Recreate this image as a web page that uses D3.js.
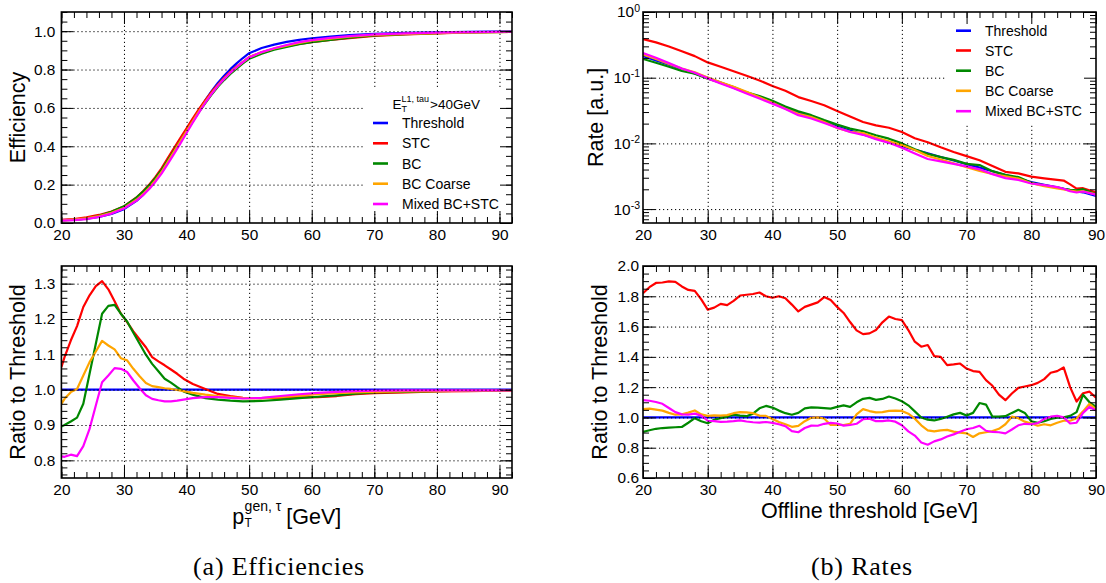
<!DOCTYPE html>
<html>
<head>
<meta charset="utf-8">
<script src="https://cdn.jsdelivr.net/npm/d3@7"></script>
<style>
  body { margin: 0; background: #fff; }
  svg { display: block; }
</style>
</head>
<body>
<svg id="chart" width="1106" height="583"></svg>
<script>
// ---------------- data ----------------
const seriesNames = ["Threshold", "STC", "BC", "BC Coarse", "Mixed BC+STC"];
const seriesColors = ["#0000ff", "#ff0000", "#008800", "#ffa500", "#ff00ff"];

// (a) efficiency vs generated tau pT
const effX = [20,22,24,26,28,30,32,33,34,35,36,37,38,39,40,41,42,43,44,45,46,47,48,49,50,52,54,56,58,60,63,66,70,75,80,85,92];
const effThreshold = [.015,.018,.023,.032,.047,.072,.115,.145,.180,.220,.265,.318,.372,.427,.482,.537,.590,.640,.687,.730,.768,.802,.832,.860,.885,.912,.930,.944,.955,.963,.972,.979,.986,.991,.994,.997,.999];
const effSTC = [.016,.021,.029,.042,.060,.086,.133,.164,.199,.239,.285,.338,.391,.443,.494,.546,.595,.641,.684,.721,.756,.788,.815,.840,.865,.890,.908,.922,.934,.943,.954,.964,.976,.983,.989,.993,.996];
const effBC = [.013,.016,.023,.037,.058,.087,.132,.162,.195,.234,.276,.326,.377,.427,.478,.529,.579,.625,.669,.710,.745,.777,.805,.832,.856,.883,.903,.918,.932,.943,.955,.966,.978,.985,.990,.994,.996];
const effBCCoarse = [.014,.018,.024,.036,.053,.078,.121,.149,.183,.222,.266,.319,.372,.426,.479,.532,.583,.631,.676,.717,.753,.785,.813,.839,.864,.890,.910,.925,.939,.950,.961,.971,.980,.986,.990,.994,.996];
const effMixed = [.012,.015,.020,.032,.049,.076,.117,.144,.176,.214,.257,.308,.360,.414,.469,.524,.577,.627,.673,.715,.751,.784,.812,.839,.863,.891,.911,.928,.943,.953,.965,.974,.983,.989,.992,.995,.997];

// (a) efficiency ratio to Threshold
const effRatioX = [20,20.5,21.5,22.5,23.5,24.5,25.5,26.5,27.5,28.5,29.5,30.5,31.5,32.5,33.5,34.5,35.5,36.5,37.5,38.5,39.5,41,43,45,47,49,52,55,58,61,64,67,70,75,80,85,90,92];
const effRatioThreshold = [1,1,1,1,1,1,1,1,1,1,1,1,1,1,1,1,1,1,1,1,1,1,1,1,1,1,1,1,1,1,1,1,1,1,1,1,1,1];
const effRatioSTC = [1.064,1.092,1.139,1.180,1.234,1.267,1.293,1.307,1.284,1.250,1.215,1.191,1.165,1.142,1.120,1.092,1.080,1.069,1.057,1.045,1.031,1.016,1.002,0.988,0.982,0.977,0.976,0.977,0.978,0.979,0.982,0.987,0.990,0.992,0.995,0.996,0.997,0.997];
const effRatioBC = [0.896,0.900,0.910,0.921,0.960,1.045,1.130,1.215,1.237,1.240,1.215,1.193,1.161,1.130,1.099,1.073,1.052,1.031,1.020,1.007,0.995,0.986,0.976,0.972,0.969,0.967,0.968,0.972,0.976,0.980,0.984,0.989,0.992,0.994,0.996,0.997,0.997,0.997];
const effRatioBCCoarse = [0.960,0.974,0.993,1.002,1.040,1.078,1.108,1.138,1.125,1.114,1.089,1.083,1.059,1.038,1.019,1.010,1.007,1.004,1.002,0.999,0.996,0.991,0.986,0.982,0.979,0.976,0.976,0.979,0.983,0.987,0.990,0.992,0.994,0.995,0.996,0.997,0.997,0.997];
const effRatioMixed = [0.811,0.810,0.816,0.812,0.840,0.889,0.955,1.021,1.040,1.061,1.059,1.050,1.026,1.004,0.984,0.974,0.970,0.967,0.967,0.969,0.972,0.976,0.979,0.979,0.977,0.975,0.977,0.982,0.987,0.991,0.994,0.996,0.997,0.998,0.998,0.998,0.998,0.998];

// (b) rate vs offline threshold
const rateX = [20,22,24,26,28,30,32,34,36,38,40,42,44,46,48,50,52,54,56,58,60,62,64,66,68,70,72,74,76,78,80,82,84,85,86,87,88,90];
const rateThreshold = [.213,.183,.157,.135,.116,.100,.0841,.0706,.0592,.0498,.0418,.0353,.0299,.0252,.0213,.0180,.0157,.0137,.0119,.0104,.00904,.00798,.00705,.00622,.00550,.00483,.00427,.00376,.00331,.00292,.00257,.00234,.00214,.00204,.00195,.00186,.00180,.00158];
const rateSTC = [.387,.345,.298,.252,.213,.171,.147,.125,.107,.0908,.0748,.0631,.0507,.0441,.0381,.0312,.0256,.0212,.0188,.0173,.0149,.0120,.0104,.00871,.00741,.00640,.00555,.00454,.00369,.00349,.00312,.00294,.00279,.00272,.00238,.00205,.00208,.00179];
const rateBC = [.193,.169,.1466,.1265,.1153,.0962,.0838,.0719,.0597,.0527,.0445,.0363,.0308,.0269,.0226,.0193,.0168,.0153,.0133,.0118,.0100,.00815,.00693,.00617,.00561,.00488,.00467,.00378,.00333,.00307,.00251,.00229,.00213,.00204,.00197,.00193,.00201,.00169];
const rateBCCoarse = [.2244,.1923,.1618,.1377,.1213,.1009,.0851,.0726,.0611,.0504,.0414,.0337,.0282,.0252,.0212,.0172,.0150,.0144,.0123,.0108,.00942,.00791,.00644,.00569,.00498,.00433,.00382,.00342,.00316,.00291,.00247,.00224,.00206,.00200,.00191,.00185,.00187,.00167];
const rateMixed = [.2371,.2014,.1667,.1377,.1189,.0977,.0817,.0689,.0575,.0481,.0403,.0333,.0269,.0239,.0204,.0173,.0149,.0135,.0116,.0102,.00857,.00702,.00578,.00532,.00488,.00446,.00403,.00340,.00296,.00277,.00245,.00232,.00216,.00204,.00187,.00179,.00185,.00166];

// (b) rate ratio to Threshold
const rateRatioX = [20,21,22,23,24,25,26,27,28,29,30,31,32,33,34,35,36,37,38,39,40,41,42,43,44,45,46,47,48,49,50,51,52,53,54,55,56,57,58,59,60,61,62,63,64,65,66,67,68,69,70,71,72,73,74,75,76,77,78,79,80,81,82,83,84,85,86,87,88,89,90];
const rateRatioThreshold = [1,1];
const rateRatioThresholdX = [20,90];
const rateRatioSTC = [1.82,1.86,1.888,1.891,1.898,1.895,1.865,1.842,1.836,1.78,1.712,1.725,1.75,1.742,1.77,1.805,1.81,1.815,1.825,1.80,1.79,1.80,1.787,1.745,1.70,1.73,1.745,1.76,1.795,1.775,1.73,1.69,1.63,1.575,1.55,1.555,1.577,1.628,1.666,1.65,1.643,1.577,1.50,1.467,1.478,1.405,1.40,1.345,1.35,1.356,1.323,1.306,1.301,1.246,1.209,1.151,1.114,1.158,1.195,1.204,1.213,1.228,1.253,1.295,1.306,1.33,1.20,1.105,1.16,1.17,1.13];
const rateRatioBC = [.905,.915,.925,.93,.933,.935,.937,.965,.995,.975,.962,.985,.995,1.005,1.018,1.012,1.008,1.025,1.06,1.076,1.065,1.045,1.028,1.018,1.03,1.06,1.066,1.065,1.062,1.058,1.07,1.08,1.07,1.1,1.123,1.129,1.116,1.122,1.138,1.125,1.107,1.08,1.04,1.0,.985,.98,.99,1.005,1.02,1.03,1.012,1.03,1.095,1.085,1.005,1.005,1.008,1.03,1.05,1.03,.975,.965,.975,.99,.998,1.0,1.01,1.035,1.15,1.10,1.07];
const rateRatioBCCoarse = [1.055,1.058,1.052,1.045,1.03,1.018,1.02,1.032,1.046,1.02,1.01,1.013,1.012,1.015,1.028,1.035,1.033,1.028,1.012,1.01,.99,.97,.955,.938,.944,.975,.998,1.0,.993,.95,.952,.95,.958,1.02,1.055,1.042,1.033,1.035,1.043,1.045,1.043,1.025,.992,.948,.915,.908,.915,.918,.906,.9,.895,.871,.895,.902,.91,.925,.955,1.005,.995,.972,.96,.945,.955,.948,.965,.978,.978,.995,1.04,1.09,1.055];
const rateRatioMixed = [1.114,1.11,1.102,1.09,1.062,1.035,1.02,1.019,1.025,1.012,.978,.975,.971,.972,.975,.98,.973,.968,.966,.97,.964,.955,.942,.91,.902,.93,.946,.945,.958,.964,.96,.946,.95,.958,.988,.992,.975,.976,.98,.972,.948,.908,.88,.835,.82,.842,.855,.874,.888,.905,.922,.93,.945,.912,.904,.902,.895,.92,.948,.958,.955,.962,.99,1.005,1.01,1.0,.96,.965,1.03,1.07,1.045];

// axis ticks
const effXTicks = [20,30,40,50,60,70,80,90];
const rateXTicks = [20,30,40,50,60,70,80,90];
const effYTicks = [0,0.2,0.4,0.6,0.8,1.0];
const effRatioYTicks = [0.8,0.9,1.0,1.1,1.2,1.3];
const rateRatioYTicks = [0.6,0.8,1.0,1.2,1.4,1.6,1.8,2.0];
const rateYTicks = [1, 0.1, 0.01, 0.001];
const rateYTickExponents = ["0", "-1", "-2", "-3"];

// ---------------- drawing ----------------
const FONT = '"Liberation Sans", Arial, Helvetica, sans-serif';
const svg = d3.select("#chart");

function minorTicks(lo, hi, step) {
  const out = [];
  const n = Math.round((hi - lo) / step);
  for (let i = 0; i <= n; i++) out.push(+(lo + i * step).toFixed(4));
  return out;
}

function styleAxis(g) {
  g.select(".domain").remove();
  g.selectAll(".tick line").attr("stroke", "#000").attr("stroke-width", 1);
  g.attr("font-family", FONT).attr("font-size", 15.4).attr("fill", "#000");
  g.selectAll(".tick text").attr("fill", "#000");
}

function drawPanel(p) {
  const x = d3.scaleLinear().domain(p.xDomain).range([p.left, p.right]);
  const y = (p.log ? d3.scaleLog() : d3.scaleLinear()).domain(p.yDomain).range([p.bottom, p.top]);
  const root = svg.append("g");
  const W = p.right - p.left, H = p.bottom - p.top;

  root.append("clipPath").attr("id", p.id)
    .append("rect").attr("x", p.left).attr("y", p.top).attr("width", W).attr("height", H);

  // curves
  const plot = root.append("g").attr("clip-path", `url(#${p.id})`);
  const line = d3.line().x(d => x(d[0])).y(d => y(d[1]));
  p.series.forEach((s, i) => {
    plot.append("path")
      .datum(s.x.map((xv, k) => [xv, s.y[k]]))
      .attr("d", line)
      .attr("fill", "none")
      .attr("stroke", seriesColors[i])
      .attr("stroke-width", 2.2)
      .attr("stroke-linejoin", "round");
  });

  // dotted grid
  const grid = root.append("g");
  grid.append("g").attr("transform", `translate(0,${p.bottom})`)
    .call(d3.axisBottom(x).tickValues(p.xGrid).tickSize(-H).tickFormat(""))
    .call(g => g.select(".domain").remove());
  grid.append("g").attr("transform", `translate(${p.left},0)`)
    .call(d3.axisLeft(y).tickValues(p.yGrid).tickSize(-W).tickFormat(""))
    .call(g => g.select(".domain").remove());
  grid.selectAll("line").attr("stroke", "#000").attr("stroke-width", 1).attr("stroke-dasharray", "1.2,2.8");

  // legend
  if (p.legend) {
    const L = p.legend;
    root.append("rect").attr("x", L.box[0]).attr("y", L.box[1])
      .attr("width", L.box[2] - L.box[0]).attr("height", L.box[3] - L.box[1]).attr("fill", "#fff");
    seriesNames.forEach((name, i) => {
      const yy = L.rows[i];
      root.append("line").attr("x1", L.lineX[0]).attr("x2", L.lineX[1]).attr("y1", yy).attr("y2", yy)
        .attr("stroke", seriesColors[i]).attr("stroke-width", 2.6);
      root.append("text").attr("x", L.textX).attr("y", yy + 5).attr("font-family", FONT)
        .attr("font-size", 14).attr("fill", "#000").text(name);
    });
    if (L.header) L.header(root);
  }

  // axes with inward ticks on all four sides
  const xMinor = minorTicks(p.xDomain[0], p.xDomain[1], 2);
  const bottomAx = root.append("g").attr("transform", `translate(0,${p.bottom})`);
  bottomAx.append("g").call(d3.axisBottom(x).tickValues(xMinor).tickSize(-6).tickFormat("")).call(styleAxis);
  bottomAx.append("g").call(d3.axisBottom(x).tickValues(p.xTicks).tickSize(-12).tickPadding(6).tickFormat(d3.format("d"))).call(styleAxis);
  const topAx = root.append("g").attr("transform", `translate(0,${p.top})`);
  topAx.append("g").call(d3.axisTop(x).tickValues(xMinor).tickSize(-6).tickFormat("")).call(styleAxis);
  topAx.append("g").call(d3.axisTop(x).tickValues(p.xTicks).tickSize(-12).tickFormat("")).call(styleAxis);

  const leftAx = root.append("g").attr("transform", `translate(${p.left},0)`);
  const rightAx = root.append("g").attr("transform", `translate(${p.right},0)`);
  leftAx.append("g").call(d3.axisLeft(y).tickValues(p.yMinor).tickSize(-6).tickFormat("")).call(styleAxis);
  rightAx.append("g").call(d3.axisRight(y).tickValues(p.yMinor).tickSize(-6).tickFormat("")).call(styleAxis);
  rightAx.append("g").call(d3.axisRight(y).tickValues(p.yTicks).tickSize(-12).tickFormat("")).call(styleAxis);
  const leftMajor = leftAx.append("g")
    .call(d3.axisLeft(y).tickValues(p.yTicks).tickSize(-12).tickPadding(p.yPad)
      .tickFormat(p.log ? () => "" : d3.format(".1f")))
    .call(styleAxis);
  if (p.log) {
    leftMajor.selectAll(".tick text").each(function (d, i) {
      const t = d3.select(this);
      t.append("tspan").text("10");
      t.append("tspan").attr("dy", "-0.55em").attr("font-size", 10.5).text(p.yTickExponents[i]);
    });
  }

  // frame
  root.append("rect").attr("x", p.left).attr("y", p.top).attr("width", W).attr("height", H)
    .attr("fill", "none").attr("stroke", "#000").attr("stroke-width", 1.6);

  // y title
  root.append("text")
    .attr("transform", `translate(${p.yTitleX},${(p.top + p.bottom) / 2}) rotate(-90)`)
    .attr("text-anchor", "middle").attr("font-family", FONT).attr("font-size", 21.5)
    .attr("fill", "#000").text(p.yTitle);

  return { x, y, root };
}

const effSeries = [effThreshold, effSTC, effBC, effBCCoarse, effMixed].map(v => ({ x: effX, y: v }));
const effRatioSeries = [effRatioThreshold, effRatioSTC, effRatioBC, effRatioBCCoarse, effRatioMixed].map(v => ({ x: effRatioX, y: v }));
const rateSeries = [rateThreshold, rateSTC, rateBC, rateBCCoarse, rateMixed].map(v => ({ x: rateX, y: v }));
const rateRatioSeries = [
  { x: rateRatioThresholdX, y: rateRatioThreshold },
  { x: rateRatioX, y: rateRatioSTC },
  { x: rateRatioX, y: rateRatioBC },
  { x: rateRatioX, y: rateRatioBCCoarse },
  { x: rateRatioX, y: rateRatioMixed }
];

// panel (a), top: efficiency
drawPanel({
  id: "clipEff", left: 61.4, right: 512, top: 12, bottom: 223,
  xDomain: [20, 92], yDomain: [0, 1.1], log: false,
  xTicks: effXTicks, xGrid: [30,40,50,60,70,80,90],
  yTicks: effYTicks, yGrid: [0.2,0.4,0.6,0.8,1.0], yMinor: minorTicks(0, 1.1, 0.05), yPad: 6,
  series: effSeries, yTitle: "Efficiency", yTitleX: 25,
  legend: {
    box: [363, 87, 511, 214], lineX: [373, 388], textX: 402,
    rows: [123, 143.3, 163.5, 183.7, 204],
    header: g => {
      const t = g.append("text").attr("font-family", FONT).attr("fill", "#000");
      t.append("tspan").attr("x", 392.5).attr("y", 109).attr("font-size", 13.5).text("E");
      g.append("text").attr("font-family", FONT).attr("fill", "#000").attr("font-size", 9)
        .attr("x", 401.5).attr("y", 112).text("T");
      g.append("text").attr("font-family", FONT).attr("fill", "#000").attr("font-size", 9)
        .attr("x", 401.5).attr("y", 102).text("L1, tau");
      g.append("text").attr("font-family", FONT).attr("fill", "#000").attr("font-size", 13.5)
        .attr("x", 430).attr("y", 109).text(">40GeV");
    }
  }
});

// panel (a), bottom: efficiency ratio
const effRatioPanel = drawPanel({
  id: "clipEffRatio", left: 61.4, right: 512, top: 266, bottom: 478,
  xDomain: [20, 92], yDomain: [0.75, 1.35], log: false,
  xTicks: effXTicks, xGrid: [30,40,50,60,70,80,90],
  yTicks: effRatioYTicks, yGrid: effRatioYTicks, yMinor: minorTicks(0.76, 1.34, 0.02), yPad: 6,
  series: effRatioSeries, yTitle: "Ratio to Threshold", yTitleX: 25
});

// x title of panel (a): p_T^{gen, tau} [GeV]
(function () {
  const g = svg.append("g").attr("font-family", FONT).attr("fill", "#000");
  const base = 524;
  const p = g.append("text").attr("y", base).attr("font-size", 21.5).text("p");
  const sub = g.append("text").attr("y", base + 3).attr("font-size", 12).text("T");
  const sup = g.append("text").attr("y", base - 13.5).attr("font-size", 14).text("gen, \u03c4");
  const unit = g.append("text").attr("y", base).attr("font-size", 21.5).text("[GeV]");
  const wp = p.node().getComputedTextLength();
  const ws = Math.max(sub.node().getComputedTextLength(), sup.node().getComputedTextLength());
  const wu = unit.node().getComputedTextLength();
  const gap = 5;
  const total = wp + 0.5 + ws + gap + wu;
  const x0 = (61.4 + 512) / 2 - total / 2;
  p.attr("x", x0);
  sub.attr("x", x0 + wp + 0.5);
  sup.attr("x", x0 + wp + 0.5);
  unit.attr("x", x0 + wp + 0.5 + ws + gap);
})();

// panel (b), top: rate
drawPanel({
  id: "clipRate", left: 643, right: 1096, top: 12, bottom: 223,
  xDomain: [20, 90], yDomain: [6.14e-4, 1], log: true,
  xTicks: rateXTicks, xGrid: [30,40,50,60,70,80],
  yTicks: rateYTicks, yTickExponents: rateYTickExponents, yGrid: [0.1, 0.01, 0.001],
  yMinor: [7e-4,8e-4,9e-4,2e-3,3e-3,4e-3,5e-3,6e-3,7e-3,8e-3,9e-3,.02,.03,.04,.05,.06,.07,.08,.09,.2,.3,.4,.5,.6,.7,.8,.9],
  yPad: 3,
  series: rateSeries, yTitle: "Rate [a.u.]", yTitleX: 603,
  legend: {
    box: [945, 13, 1095, 125], lineX: [956, 971], textX: 985,
    rows: [30.7, 50.5, 70.7, 90.8, 111.2]
  }
});

// panel (b), bottom: rate ratio
drawPanel({
  id: "clipRateRatio", left: 643, right: 1096, top: 266, bottom: 478,
  xDomain: [20, 90], yDomain: [0.6, 2.0], log: false,
  xTicks: rateXTicks, xGrid: [30,40,50,60,70,80],
  yTicks: rateRatioYTicks, yGrid: [0.8,1.0,1.2,1.4,1.6,1.8], yMinor: minorTicks(0.6, 2.0, 0.05), yPad: 4,
  series: rateRatioSeries, yTitle: "Ratio to Threshold", yTitleX: 607
});

svg.append("text").attr("x", (643 + 1096) / 2).attr("y", 518).attr("text-anchor", "middle")
  .attr("font-family", FONT).attr("font-size", 21.5).attr("fill", "#000").text("Offline threshold [GeV]");

// sub-figure captions
const captions = [["(a) Efficiencies", 279], ["(b) Rates", 862]];
captions.forEach(([txt, cx]) => {
  svg.append("text").attr("x", cx).attr("y", 575).attr("text-anchor", "middle")
    .attr("font-family", '"Liberation Serif", "DejaVu Serif", serif').attr("font-size", 26)
    .attr("letter-spacing", 0.8).attr("fill", "#000").text(txt);
});
</script>
</body>
</html>
